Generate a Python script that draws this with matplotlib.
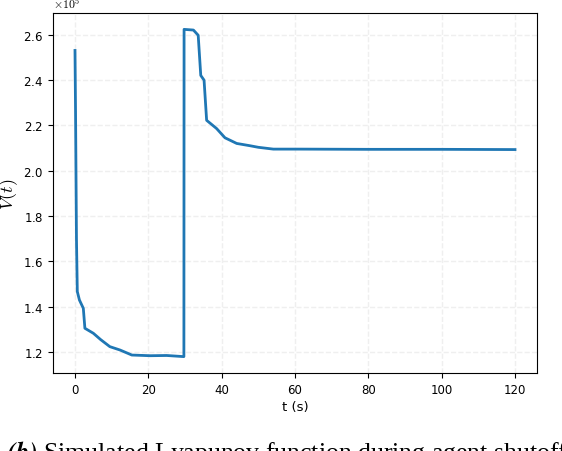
import matplotlib
matplotlib.use("Agg")
import matplotlib.pyplot as plt
import numpy as np

# Lyapunov function V(t) (in units of 1e5)
t_vals = [0.0, 0.15, 0.4, 0.63, 1.2, 2.27, 2.7, 5.0, 7.0, 9.5, 12.3, 15.5, 20.5,
          25.0, 29.7, 29.75, 32.3, 33.6, 34.3, 35.2, 35.9, 38.6, 40.9, 44.1,
          47.7, 50.0, 54.1, 61.4, 80.0, 100.0, 120.0]
v_vals = [2.53, 2.26, 1.70, 1.467, 1.43, 1.393, 1.305, 1.283, 1.255, 1.224,
          1.209, 1.187, 1.184, 1.185, 1.180, 2.623, 2.62, 2.597, 2.42, 2.399,
          2.222, 2.186, 2.145, 2.12, 2.11, 2.103, 2.095, 2.095, 2.094, 2.094,
          2.093]

plt.rcParams['mathtext.fontset'] = 'cm'

fig = plt.figure(figsize=(5.62, 4.52), dpi=100)
ax = fig.add_axes([0.0943, 0.1726, 0.8612, 0.7964])

ax.plot(t_vals, np.array(v_vals) * 1e5, color='#1f77b4', linewidth=2)

ax.grid(True, color='#efefef', linestyle='--', linewidth=1)
ax.set_axisbelow(True)

ax.set_xticks([0, 20, 40, 60, 80, 100, 120])
ax.set_yticks(np.arange(1.2e5, 2.61e5, 0.2e5))
ax.ticklabel_format(axis='y', style='sci', scilimits=(0, 0), useMathText=True)
ax.tick_params(labelsize=8.5)
ax.set_xlabel('t (s)', fontsize=9.5, labelpad=3)
ax.set_ylabel('$V(t)$', fontsize=13, labelpad=2)

fig.canvas.draw()
off = ax.yaxis.get_offset_text()
off.set_family('cmr10')
off.set_fontsize(8.5)

fig.text(0.012, 0.029, r'$\mathbfit{(b)}$ Simulated Lyapunov function during agent shutoff',
         fontsize=18.5, family='Liberation Serif', va='top', ha='left')

fig.savefig('out.png', dpi=100)
